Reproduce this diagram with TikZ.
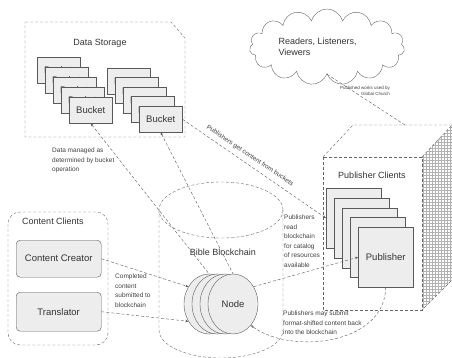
\documentclass[tikz,border=0pt]{standalone}
\usepackage{fontspec}
\setmainfont{Liberation Sans}
\usetikzlibrary{shapes.symbols,shapes.geometric,patterns,arrows.meta}

\begin{document}
\begin{tikzpicture}[x=1pt,y=-1pt,
    outline/.style={draw=black!60,densely dashed,thin},
    card/.style={draw=black!65,fill=black!7,anchor=north west,inner sep=0pt,font=\fontsize{9.5}{10}\selectfont,text=black!80},
    link/.style={draw=black!65,densely dashed,thin,>={Stealth[length=3pt,width=2.5pt]}},
    note/.style={font=\fontsize{6.5}{9.5}\selectfont,align=left,anchor=north west,inner sep=0pt,text=black!75},
    head/.style={font=\fontsize{9}{11}\selectfont,text=black!80}]

	\useasboundingbox (0,0) rectangle (452,358);

	% data storage
	\draw[outline] (25,22) -- (171,22) -- (185,38) -- (185,137) -- (25,137) -- cycle;
	\node[head] (dsLabel) at (100,43) {Data Storage};
	\foreach \i in {0,...,4}
	\node[card,minimum width=43pt,minimum height=26pt] (bA\i) at ({37+8*\i},{57+10*\i}) {Bucket};
	\foreach \i in {0,...,4}
	\node[card,minimum width=43pt,minimum height=26pt] (bB\i) at ({107+8*\i},{68+9.5*\i}) {Bucket};

	% readers
	\node[cloud,cloud puffs=15,aspect=2.4,draw=black!60,thin,minimum width=155pt,minimum height=76pt] (crowd) at (327,47) {};
	\node[head,align=left,anchor=west] (crowdText) at (275,47) {Readers, Listeners,\\Viewers};

	% publisher clients
	\fill[pattern=grid,pattern color=black!30] (422,157) -- (452,125) -- (452,280) -- (422,310) -- cycle;
	\draw[outline] (422,157) -- (452,125) -- (452,280) -- (422,310);
	\draw[outline] (323,157) -- (353,125) -- (452,125);
	\draw[outline] (323,157) rectangle (422,310);
	\node[head] (pcLabel) at (372,175) {Publisher Clients};
	\coordinate (pcTop) at (405,125);
	\foreach \i in {0,...,4}
	\node[card,minimum width=55pt,minimum height=60pt] (pb\i) at ({326+8*\i},{188+9.75*\i}) {Publisher};

	% content clients
	\draw[outline,rounded corners=12pt] (8,212) rectangle (108,345);
	\node[head] (ccLabel) at (53,221) {Content Clients};
	\node[card,rounded corners=4pt,minimum width=85pt,minimum height=37pt] (creator) at (16,240) {Content Creator};
	\node[card,rounded corners=4pt,minimum width=85pt,minimum height=39pt] (translator) at (16,292) {Translator};

	% blockchain
	\draw[outline] (221,210) ellipse [x radius=62pt, y radius=28pt];
	\draw[outline] (159,210) -- (159,330) arc[start angle=180,end angle=360,x radius=62pt,y radius=28pt] -- (283,210);
	\node[head] (bcLabel) at (223,252) {Bible Blockchain};
	\foreach \i/\t in {0/,1/,2/,3/Node}
	\node[ellipse,draw=black!65,fill=black!7,minimum width=50pt,minimum height=60pt,inner sep=0pt,font=\fontsize{9.5}{10}\selectfont,text=black!80] (nd\i) at ({209+8*\i},304) {\t};

	% links
	\draw[link,<-] (bA4.south) -- (nd0.north);
	\draw[link,<-] (bB4.south) -- (nd3.north);
	\draw[link,->] (bB4.east) -- (pb0.west);
	\draw[link,->] (creator.east) -- (nd0.140);
	\draw[link,->] (translator.east) -- (nd0.-140);
	\draw[link,->] (nd3.40) -- (pb4.west);
	\draw[link,->] (pb4.south) .. controls (385,345) and (290,355) .. (nd3.-50);
	\draw[link] (crowd.south) -- (pcTop);

	% notes
	\node[note,anchor=center,rotate=-34] (noteGet) at (250,156) {Publishers get content from buckets};
	\node[note] (noteData) at (52,148) {Data managed as\\determined by bucket\\operation};
	\node[note] (noteDone) at (115,274) {Completed\\content\\submitted to\\blockchain};
	\node[note] (noteRead) at (284,215) {Publishers\\read\\blockchain\\for catalog\\of resources\\available};
	\node[note] (noteBack) at (283,311) {Publishers may submit\\format-shifted content back\\into the blockchain};
	\node[note,font=\fontsize{4.5}{6}\selectfont,align=right,anchor=north east] (noteUse) at (390,86) {Published works used by\\Global Church};
\end{tikzpicture}
\end{document}
